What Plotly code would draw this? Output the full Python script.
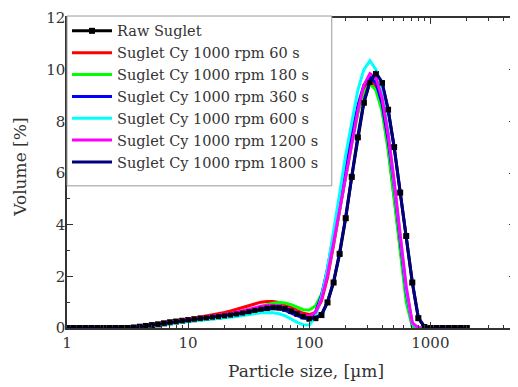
import plotly.graph_objects as go

# Particle size bins (um)
sizes = [1.002, 1.125, 1.262, 1.416, 1.589, 1.783, 2.000, 2.244, 2.518, 2.825,
         3.170, 3.557, 3.991, 4.477, 5.024, 5.637, 6.325, 7.096, 7.962, 8.934,
         10.024, 11.247, 12.619, 14.159, 15.887, 17.825, 20.000, 22.440, 25.179, 28.251,
         31.698, 35.566, 39.905, 44.774, 50.238, 56.368, 63.246, 70.963, 79.621, 89.337,
         100.237, 112.468, 126.191, 141.589, 158.866, 178.250, 200.000, 224.404, 251.785, 282.508,
         316.979, 355.656, 399.052, 447.744, 502.377, 563.677, 632.456, 709.627, 796.214, 893.367,
         1002.374, 1124.683, 1261.915, 1415.892, 1588.656, 1782.502, 2000.000]

zeros11 = [0] * 11

raw = zeros11 + [0.02, 0.05, 0.08, 0.11, 0.14, 0.18, 0.22, 0.25, 0.28,
                 0.31, 0.34, 0.37, 0.39, 0.42, 0.44, 0.47, 0.50, 0.54, 0.58,
                 0.63, 0.68, 0.73, 0.77, 0.80, 0.79, 0.75, 0.66, 0.55, 0.45,
                 0.36, 0.38, 0.50, 0.99, 1.76, 2.87, 4.25, 5.85, 7.38, 8.72,
                 9.50, 9.83, 9.48, 8.45, 7.00, 5.24, 3.56, 1.76, 0.38, 0.04,
                 0, 0, 0, 0, 0, 0, 0]

red = zeros11 + [0.02, 0.05, 0.09, 0.12, 0.16, 0.20, 0.24, 0.28, 0.31,
                 0.35, 0.38, 0.42, 0.46, 0.50, 0.55, 0.60, 0.66, 0.73, 0.80,
                 0.88, 0.95, 1.00, 1.03, 1.03, 0.99, 0.90, 0.79, 0.67, 0.57,
                 0.52, 0.60, 1.05, 1.95, 3.20, 4.60, 5.90, 7.20, 8.40, 9.30,
                 9.60, 9.35, 8.50, 7.00, 5.10, 3.10, 1.20, 0.08, 0, 0,
                 0, 0, 0, 0, 0, 0, 0]

green = zeros11 + [0.02, 0.05, 0.08, 0.11, 0.14, 0.18, 0.22, 0.25, 0.28,
                   0.31, 0.34, 0.37, 0.39, 0.42, 0.45, 0.48, 0.52, 0.56, 0.61,
                   0.67, 0.74, 0.82, 0.90, 0.96, 0.99, 0.97, 0.90, 0.80, 0.71,
                   0.70, 0.85, 1.30, 2.10, 3.30, 4.60, 5.90, 7.10, 8.30, 9.10,
                   9.45, 9.20, 8.40, 6.90, 5.00, 2.90, 1.00, 0.05, 0, 0,
                   0, 0, 0, 0, 0, 0, 0]

blue = zeros11 + [0.02, 0.04, 0.07, 0.10, 0.13, 0.17, 0.20, 0.24, 0.27,
                  0.30, 0.33, 0.35, 0.38, 0.40, 0.43, 0.46, 0.49, 0.53, 0.58,
                  0.63, 0.68, 0.72, 0.75, 0.76, 0.74, 0.68, 0.58, 0.47, 0.39,
                  0.36, 0.60, 1.25, 2.30, 3.60, 5.00, 6.30, 7.50, 8.60, 9.40,
                  9.70, 9.50, 8.70, 7.30, 5.50, 3.40, 1.40, 0.15, 0, 0,
                  0, 0, 0, 0, 0, 0, 0]

cyan = zeros11 + [0.01, 0.03, 0.06, 0.09, 0.12, 0.15, 0.18, 0.21, 0.24,
                  0.26, 0.28, 0.30, 0.32, 0.34, 0.36, 0.38, 0.41, 0.44, 0.48,
                  0.52, 0.56, 0.59, 0.60, 0.59, 0.55, 0.47, 0.35, 0.22, 0.13,
                  0.12, 0.45, 1.20, 2.30, 3.70, 5.20, 6.70, 8.00, 9.20, 10.00,
                  10.35, 10.00, 9.10, 7.60, 5.70, 3.60, 1.50, 0.15, 0, 0,
                  0, 0, 0, 0, 0, 0, 0]

magenta = zeros11 + [0.03, 0.07, 0.10, 0.13, 0.16, 0.20, 0.23, 0.27, 0.30,
                     0.33, 0.36, 0.39, 0.42, 0.45, 0.48, 0.52, 0.56, 0.61, 0.67,
                     0.73, 0.79, 0.84, 0.87, 0.88, 0.86, 0.80, 0.70, 0.58, 0.48,
                     0.45, 0.60, 1.10, 2.05, 3.30, 4.60, 5.90, 7.10, 8.40, 9.40,
                     9.85, 9.70, 8.90, 7.50, 5.70, 3.60, 1.60, 0.20, 0, 0,
                     0, 0, 0, 0, 0, 0, 0]

navy = zeros11 + [0.02, 0.05, 0.08, 0.11, 0.14, 0.18, 0.22, 0.25, 0.28,
                  0.31, 0.34, 0.37, 0.39, 0.42, 0.44, 0.47, 0.50, 0.54, 0.58,
                  0.63, 0.68, 0.73, 0.78, 0.81, 0.80, 0.76, 0.67, 0.55, 0.45,
                  0.37, 0.39, 0.52, 1.02, 1.80, 2.92, 4.30, 5.90, 7.42, 8.76,
                  9.55, 9.88, 9.52, 8.48, 7.02, 5.26, 3.58, 1.78, 0.40, 0.05,
                  0, 0, 0, 0, 0, 0, 0]

series = [
    ("Suglet Cy 1000 rpm 60 s", red, "#FF0000"),
    ("Suglet Cy 1000 rpm 180 s", green, "#00FF00"),
    ("Suglet Cy 1000 rpm 360 s", blue, "#0000FF"),
    ("Suglet Cy 1000 rpm 600 s", cyan, "#00FFFF"),
    ("Suglet Cy 1000 rpm 1200 s", magenta, "#FF00FF"),
    ("Suglet Cy 1000 rpm 1800 s", navy, "#000080"),
]

FONT = "DejaVu Serif, Liberation Serif, serif"
TXT = "#333333"

fig = go.Figure()
fig.add_trace(go.Scatter(x=sizes, y=raw, name="Raw Suglet", mode="lines+markers",
                         line=dict(color="black", width=3),
                         marker=dict(symbol="square", size=6, color="black")))
for name, vals, col in series:
    fig.add_trace(go.Scatter(x=sizes, y=vals, name=name, mode="lines",
                             line=dict(color=col, width=3)))
fig.add_trace(go.Scatter(x=sizes, y=raw, mode="markers", showlegend=False,
                         marker=dict(symbol="square", size=5, color="black")))

axis_common = dict(showline=True, linecolor="#333333", linewidth=1.5, mirror="ticks",
                   ticks="inside", ticklen=6, tickwidth=1, tickcolor="#333333",
                   showgrid=False, zeroline=False, ticklabeloverflow="allow",
                   tickfont=dict(family=FONT, size=15, color=TXT))

fig.update_xaxes(type="log", range=[0, 3.699], tickvals=[1, 10, 100, 1000],
                 ticktext=["1", "10", "100", "1000"],
                 minor=dict(ticks="inside", ticklen=3, tickcolor="#333333",
                            tickvals=[2, 3, 4, 5, 6, 7, 8, 9, 20, 30, 40, 50, 60, 70, 80, 90,
                                      200, 300, 400, 500, 600, 700, 800, 900,
                                      2000, 3000, 4000]),
                 **axis_common)
fig.update_yaxes(range=[0, 12], dtick=2, ticklabelstandoff=-3,
                 minor=dict(ticks="inside", ticklen=3, tickcolor="#333333", dtick=1),
                 **axis_common)

# axis titles (page offsets the figure by 8 px)
fig.add_annotation(text="Volume [%]", xref="paper", yref="paper",
                   x=-0.1056, y=0.519, xanchor="center", yanchor="middle",
                   textangle=-90, showarrow=False,
                   font=dict(family=FONT, size=17, color=TXT))
fig.add_annotation(text="Particle size, [µm]", xref="paper", yref="paper",
                   x=0.533, y=-0.1385, xanchor="center", yanchor="middle", showarrow=False,
                   font=dict(family=FONT, size=17, color=TXT))

# legend frame
fig.add_shape(type="rect", xref="paper", yref="paper", x0=0.0, x1=0.591, y0=0.4586, y1=1.0064,
              fillcolor="white", line=dict(color="#999999", width=1), layer="above")

fig.update_layout(
    width=510, height=379,
    margin=dict(l=59, r=1, t=6, b=59),
    paper_bgcolor="white", plot_bgcolor="white",
    font=dict(family=FONT, color=TXT),
    legend=dict(x=0, y=1.010, xanchor="left", yanchor="top",
                bgcolor="rgba(0,0,0,0)", borderwidth=0,
                font=dict(family=FONT, size=14.5, color=TXT),
                itemwidth=40, tracegroupgap=0),
    showlegend=True,
)

fig.write_html("out.html")
